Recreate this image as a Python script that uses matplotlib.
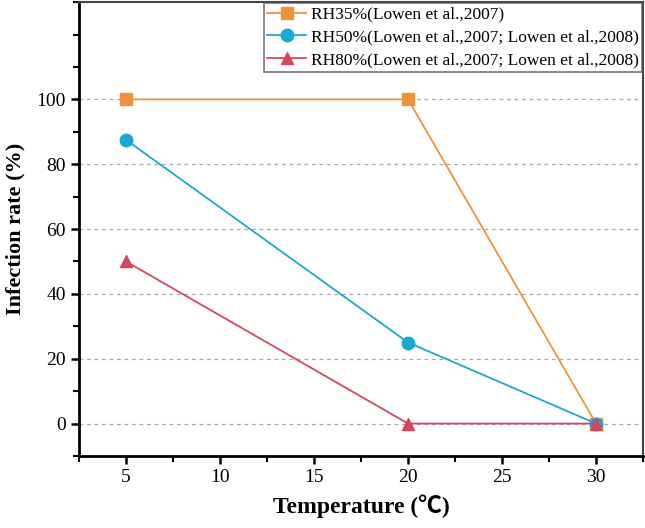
import numpy as np
import matplotlib
matplotlib.use('Agg')
import matplotlib.pyplot as plt
from matplotlib.ticker import MultipleLocator

plt.rcParams['font.family'] = ['Liberation Serif', 'Noto Sans CJK SC', 'DejaVu Serif']

# Data
temps_35 = [5, 20, 30]
rate_35 = [100, 100, 0]
temps_50 = [5, 20, 30]
rate_50 = [87.5, 25, 0]
temps_80 = [5, 20, 30]
rate_80 = [50, 0, 0]
labels = ['RH35%(Lowen et al.,2007)',
          'RH50%(Lowen et al.,2007; Lowen et al.,2008)',
          'RH80%(Lowen et al.,2007; Lowen et al.,2008)']

fig = plt.figure(figsize=(6.45, 5.28), dpi=100)
ax = fig.add_axes([0.1225, 0.1364, 0.8745, 0.8596])

ax.plot(temps_35, rate_35, color='#F0923A', marker='s', markersize=8, lw=1.3, label=labels[0])
ax.plot(temps_50, rate_50, color='#1AA7D4', marker='o', markersize=9, lw=1.3, label=labels[1])
ax.plot(temps_80, rate_80, color='#D6475E', marker='^', markersize=9, lw=1.3, label=labels[2])

ax.set_xlim(2.5, 32.5)
ax.set_ylim(-10, 130)
ax.set_xticks([5, 10, 15, 20, 25, 30])
ax.xaxis.set_minor_locator(MultipleLocator(2.5))
ax.set_yticks([0, 20, 40, 60, 80, 100])
ax.yaxis.set_minor_locator(MultipleLocator(10))

for y in [0, 20, 40, 60, 80, 100]:
    ax.axhline(y, color='#aaaaaa', linestyle=(0, (3, 3)), linewidth=0.9, zorder=0)

ax.tick_params(which='major', direction='out', length=6, width=1.8, labelsize=14)
ax.tick_params(which='minor', direction='out', length=4, width=1.5)

ax.spines['left'].set_linewidth(2)
ax.spines['bottom'].set_linewidth(2)
ax.spines['top'].set_linewidth(1.5)
ax.spines['top'].set_color('#444444')
ax.spines['right'].set_linewidth(1.5)
ax.spines['right'].set_color('#444444')

ax.set_xlabel('Temperature (℃)', fontsize=17, fontweight='bold', labelpad=6)
ax.set_ylabel('Infection rate (%)', fontsize=16, fontweight='bold', labelpad=8)

leg = ax.legend(loc='upper right', fontsize=12.5, frameon=True, fancybox=False,
                edgecolor='#555555', handlelength=2.2, borderpad=0.2,
                labelspacing=0.38, handletextpad=0.3, borderaxespad=0.05)
leg.get_frame().set_linewidth(1.2)

fig.savefig('out.png', dpi=100)
